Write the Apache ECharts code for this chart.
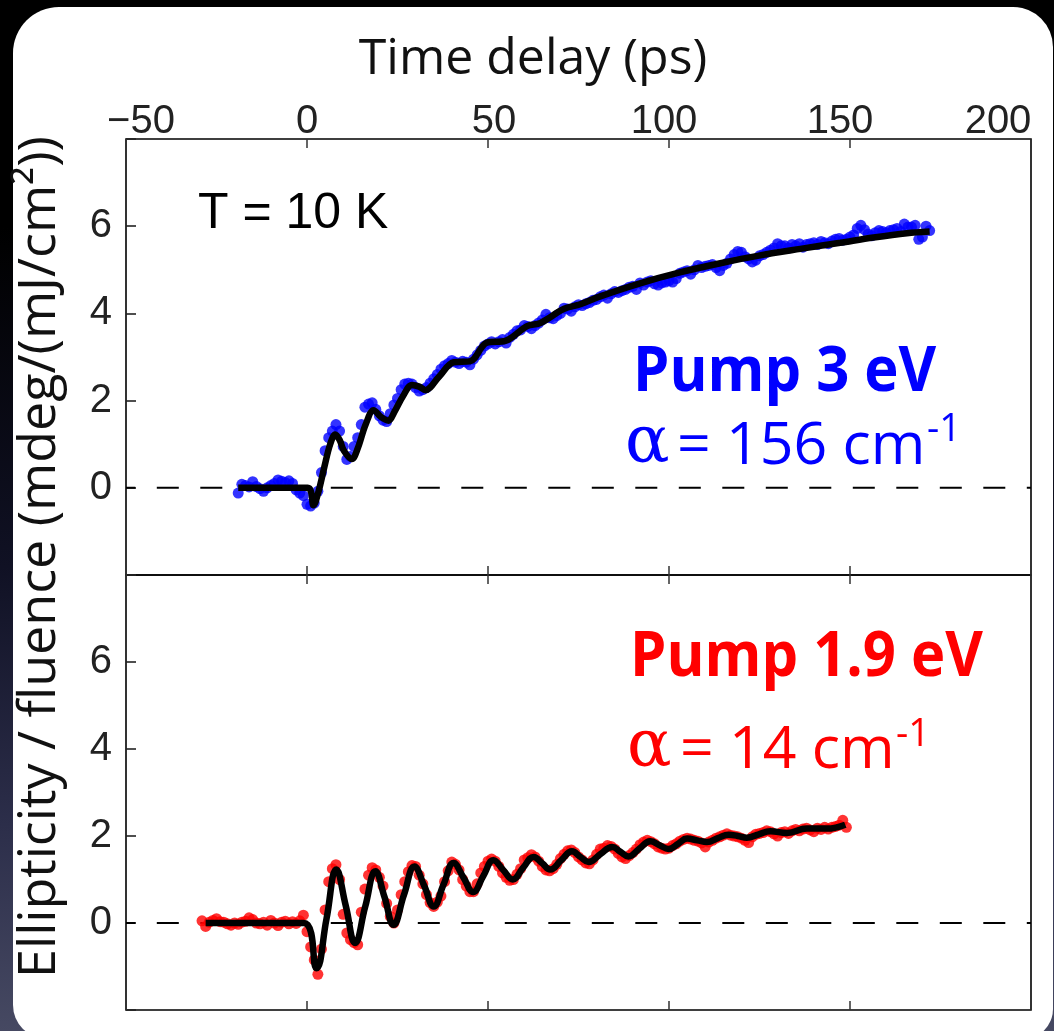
<!DOCTYPE html>
<html><head><meta charset="utf-8">
<script src="https://cdn.jsdelivr.net/npm/echarts@6/dist/echarts.min.js"></script>
<style>
html,body{margin:0;padding:0;width:1054px;height:1031px;overflow:hidden;}
body{background:linear-gradient(to bottom,#000 0%,#000 22%,#101124 55%,#2c2e4a 80%,#464962 100%);}
#panel{position:absolute;left:13px;top:7px;width:1040px;height:1032px;background:#fff;border-radius:46px 40px 30px 34px;}
#chart{position:absolute;left:0;top:0;width:1054px;height:1031px;}
</style></head><body><div id="panel"></div><div id="chart"></div>
<script>
// ---- axis settings ----
const xMin = -50, xMax = 200, xStep = 50;
const yMin = -2, yMax = 8, yStep = 2;
const xTickLabels = {'-50':'−50','0':'0','50':'50','100':'100','150':'150','200':'200'};

// ---- Pump 3 eV (top panel) : measured points ----
const tTop = [
-19,-18,-17,-16,-15,-14,-13,-12,-11,-10,-9,-8,-7,-6,-5,-4,-3,-2,-1,0,
1,2,3,4,5,6,7,8,9,10,11,12,13,14,15,16,17,18,19,20,
21,22,23,24,25,26,27,28,29,30,31,32,33,34,35,36,37,38,39,40,
41,42,43,44,45,46,47,48,49,50,51,52,53,54,55,56,57,58,59,60,
61,62,63,64,65,66,67,68,69,70,71,72,73,74,75,76,77,78,79,80,
81,82,83,84,85,86,87,88,89,90,91,92,93,94,95,96,97,98,99,100,
101,102,103,104,105,106,107,108,109,110,111,112,113,114,115,116,117,118,119,120,
121,122,123,124,125,126,127,128,129,130,131,132,133,134,135,136,137,138,139,140,
141,142,143,144,145,146,147,148,149,150,151,152,153,154,155,156,157,158,159,160,
161,162,163,164,165,166,167,168,169,170,171,172];
const yTop = [
-0.12,0.08,0.05,0.02,0.14,0.03,-0.02,-0.08,0.00,0.05,0.10,0.18,0.15,0.12,0.16,0.10,-0.05,-0.12,-0.18,-0.38,
-0.42,-0.35,-0.08,0.35,0.85,1.15,1.30,1.45,1.30,0.95,0.65,0.72,0.95,1.15,1.45,1.85,1.92,1.95,1.80,1.65,
1.55,1.52,1.70,1.90,2.05,2.25,2.38,2.40,2.38,2.30,2.22,2.25,2.30,2.40,2.50,2.60,2.72,2.80,2.85,2.92,
2.88,2.85,2.90,2.88,2.82,2.95,3.05,3.15,3.25,3.30,3.35,3.30,3.35,3.40,3.32,3.45,3.52,3.60,3.62,3.72,
3.70,3.65,3.72,3.78,3.85,3.98,3.90,3.88,3.95,4.00,4.12,4.10,4.05,4.15,4.20,4.18,4.22,4.25,4.30,4.32,
4.38,4.42,4.35,4.45,4.50,4.48,4.52,4.55,4.60,4.62,4.55,4.70,4.65,4.72,4.75,4.68,4.65,4.70,4.72,4.75,
4.72,4.80,4.92,4.95,4.98,4.90,5.00,5.10,5.05,5.08,5.10,5.12,5.05,4.98,5.10,5.15,5.25,5.35,5.42,5.40,
5.30,5.25,5.18,5.22,5.32,5.35,5.40,5.45,5.50,5.60,5.55,5.55,5.50,5.58,5.55,5.60,5.52,5.58,5.60,5.62,
5.58,5.65,5.62,5.60,5.66,5.70,5.72,5.68,5.70,5.75,5.80,5.95,6.02,5.92,5.82,5.78,5.85,5.90,5.88,5.85,
5.90,5.92,5.95,5.88,6.05,5.98,5.98,6.02,5.70,5.75,6.00,5.90];

// ---- Pump 3 eV : fit curve ----
const fitTopT = [-19,0.2,1.8,3.2,4.8,6.4,7.8,9.0,10.2,12.4,14.0,16.2,18.4,20.5,22.5,24.2,26.5,29,31,32.7,36.5,40.5,45,49.7,54.8,60.8,64.5,70.9,75.5,81,92,103,114.2,125.2,136.3,147.3,156.5,165.7,172];
const fitTopY = [0,0,-0.40,-0.08,0.48,1.00,1.22,1.10,0.85,0.66,0.90,1.45,1.78,1.62,1.54,1.75,2.10,2.36,2.32,2.24,2.55,2.88,2.90,3.33,3.37,3.71,3.78,4.10,4.21,4.39,4.69,4.94,5.15,5.33,5.48,5.62,5.74,5.84,5.88];

// ---- Pump 1.9 eV (bottom panel) : measured points ----
const tBot = [
-29,-28,-27,-26,-25,-24,-23,-22,-21,-20,-19,-18,-17,-16,-15,-14,-13,-12,-11,-10,
-9,-8,-7,-6,-5,-4,-3,-2,-1,0,1,2,3,4,5,6,7,8,9,10,
11,12,13,14,15,16,17,18,19,20,21,22,23,24,25,26,27,28,29,30,
31,32,33,34,35,36,37,38,39,40,41,42,43,44,45,46,47,48,49,50,
51,52,53,54,55,56,57,58,59,60,61,62,63,64,65,66,67,68,69,70,
71,72,73,74,75,76,77,78,79,80,81,82,83,84,85,86,87,88,89,90,
91,92,93,94,95,96,97,98,99,100,101,102,103,104,105,106,107,108,109,110,
111,112,113,114,115,116,117,118,119,120,121,122,123,124,125,126,127,128,129,130,
131,132,133,134,135,136,137,138,139,140,141,142,143,144,145,146,147,148,149];
const yBot = [
0.05,-0.08,0.02,0.06,0.10,0.03,0.02,-0.02,-0.05,0.00,-0.03,0.02,0.04,0.12,0.08,0.00,-0.02,0.02,-0.05,0.06,
0.00,-0.06,0.02,0.04,-0.02,0.03,-0.01,0.05,0.18,-0.20,-0.55,-0.85,-1.18,-0.60,0.30,0.95,1.25,1.34,1.00,0.20,
-0.23,-0.38,-0.45,-0.50,0.25,0.78,1.10,1.27,1.22,1.05,0.85,0.45,0.15,0.00,0.30,0.65,0.95,1.18,1.32,1.30,
1.10,0.90,0.65,0.47,0.38,0.48,0.62,0.95,1.20,1.40,1.35,1.22,1.00,0.85,0.72,0.72,0.90,1.15,1.30,1.42,
1.47,1.42,1.30,1.15,1.05,0.98,1.00,1.12,1.25,1.45,1.50,1.57,1.52,1.42,1.30,1.22,1.20,1.25,1.35,1.48,
1.58,1.66,1.68,1.62,1.52,1.45,1.38,1.36,1.45,1.58,1.70,1.72,1.78,1.76,1.70,1.60,1.52,1.48,1.55,1.62,
1.70,1.80,1.86,1.90,1.87,1.82,1.75,1.72,1.70,1.72,1.78,1.82,1.88,1.92,1.95,1.93,1.90,1.88,1.84,1.75,
1.86,1.90,1.95,1.98,2.02,2.05,2.02,2.00,1.98,1.95,1.90,1.85,1.98,2.04,2.06,2.08,2.12,2.10,2.05,2.00,
2.08,2.10,2.06,2.12,2.15,2.12,2.16,2.18,2.14,2.10,2.18,2.15,2.20,2.16,2.20,2.22,2.25,2.36,2.20];

// ---- Pump 1.9 eV : fit curve ----
const fitBotT = [-28,-0.9,2.6,5.4,8.1,10.7,13.3,16.1,18.9,21.4,23.9,26.8,29.7,32.4,35,37.7,40.5,43.2,45.9,48.7,51.5,54.2,56.8,59.7,62.6,64.9,67.2,70.2,73.2,75.5,77.8,81,84.3,86.5,88.8,91.8,94.8,97.4,99.9,102.5,105,107.8,110.5,113.5,116.5,119,121.5,124.8,128,132.6,138.1,143.6,148.7];
const fitBotY = [0,0,-1.04,0.10,1.23,0.40,-0.46,0.38,1.19,0.60,-0.04,0.65,1.30,0.85,0.38,0.88,1.38,1.05,0.71,1.08,1.44,1.22,1.00,1.27,1.52,1.38,1.23,1.44,1.65,1.52,1.40,1.58,1.75,1.64,1.53,1.71,1.88,1.79,1.70,1.82,1.94,1.90,1.86,1.95,2.03,2.00,1.96,2.04,2.11,2.07,2.17,2.17,2.26];

// ---- text ----
const xTitle = 'Time delay (ps)';
const yTitle = 'Ellipticity / fluence (mdeg/(mJ/cm²))';
const tempLabel = 'T = 10 K';
const topLabel = 'Pump 3 eV', topAlpha = '= 156 cm', botLabel = 'Pump 1.9 eV', botAlpha = '= 14 cm', supText = '-1';

const pairs = (a, b) => a.map((v, i) => [v, b[i]]);
const zeroLine = [[xMin, 0], [xMax, 0]];

const chart = echarts.init(document.getElementById('chart'), null, {renderer: 'canvas'});
const tickFont = {fontFamily: 'Liberation Sans', fontSize: 40, color: '#222'};
const shiftKey = {'-50': 'a', '0': 'b', '50': 'c', '100': 'd', '150': 'e', '200': 'f'};
const richTop = {
  a: Object.assign({padding: [0, 0, 0, 30]}, tickFont),
  b: Object.assign({}, tickFont),
  c: Object.assign({padding: [0, 0, 0, 12]}, tickFont),
  d: Object.assign({padding: [0, 10, 0, 0]}, tickFont),
  e: Object.assign({padding: [0, 20, 0, 0]}, tickFont),
  f: Object.assign({padding: [0, 66, 0, 0]}, tickFont)
};
function xAx(gridIndex, position, labels) {
  return {
    type: 'value', gridIndex, position, min: xMin, max: xMax, interval: xStep,
    axisLine: {show: false, onZero: false},
    axisTick: {show: true, inside: true, length: 9, lineStyle: {color: '#333', width: 1.5}},
    splitLine: {show: false},
    axisLabel: labels ? {
      show: true, margin: -3,
      formatter: v => '{' + shiftKey[String(v)] + '|' + xTickLabels[String(v)] + '}',
      rich: richTop
    } : {show: false}
  };
}
function yAx(gridIndex) {
  return {
    type: 'value', gridIndex, position: 'left', min: yMin, max: yMax, interval: yStep,
    axisLine: {show: false, onZero: false},
    axisTick: {show: true, inside: true, length: 10, lineStyle: {color: '#222', width: 1.6}},
    splitLine: {show: false},
    axisLabel: Object.assign({margin: 14, formatter: v => (v === yMin || v === yMax) ? '' : String(v)}, tickFont)
  };
}
const dash = {color: '#000', width: 2, type: [22, 21.5], dashOffset: 12.7};

chart.setOption({
  animation: false,
  backgroundColor: 'transparent',
  grid: [
    {left: 126, top: 139, width: 905, height: 436, show: true, borderColor: '#000', borderWidth: 1.6, backgroundColor: 'transparent'},
    {left: 126, top: 575, width: 905, height: 435, show: true, borderColor: '#000', borderWidth: 1.6, backgroundColor: 'transparent'}
  ],
  xAxis: [xAx(0, 'top', true), xAx(0, 'bottom', false), xAx(1, 'top', false), xAx(1, 'bottom', false)],
  yAxis: [yAx(0), yAx(1)],
  series: [
    {type: 'line', xAxisIndex: 1, yAxisIndex: 0, data: zeroLine, showSymbol: false, symbol: 'none', lineStyle: dash, z: 1, silent: true},
    {type: 'scatter', name: 'Pump 3 eV', xAxisIndex: 1, yAxisIndex: 0, data: pairs(tTop, yTop), symbol: 'circle', symbolSize: 11, itemStyle: {color: '#0000ff'}, z: 2},
    {type: 'line', name: 'fit 3 eV', xAxisIndex: 1, yAxisIndex: 0, data: pairs(fitTopT, fitTopY), showSymbol: false, symbol: 'none', smooth: 0.35, lineStyle: {color: '#000', width: 6.5}, z: 3},
    {type: 'line', xAxisIndex: 3, yAxisIndex: 1, data: zeroLine, showSymbol: false, symbol: 'none', lineStyle: dash, z: 1, silent: true},
    {type: 'scatter', name: 'Pump 1.9 eV', xAxisIndex: 3, yAxisIndex: 1, data: pairs(tBot, yBot), symbol: 'circle', symbolSize: 11, itemStyle: {color: '#ff0000'}, z: 2},
    {type: 'line', name: 'fit 1.9 eV', xAxisIndex: 3, yAxisIndex: 1, data: pairs(fitBotT, fitBotY), showSymbol: false, symbol: 'none', smooth: 0.45, lineStyle: {color: '#000', width: 6.5}, z: 3}
  ],
  graphic: [
    {type: 'text', x: 533, y: 59.6, style: {text: xTitle, fontFamily: 'Open Sans', fontSize: 50, fill: '#111', align: 'center', verticalAlign: 'middle'}},
    {type: 'text', x: 40, y: 557, rotation: Math.PI / 2, style: {text: yTitle, fontFamily: 'Open Sans', fontSize: 52, fill: '#111', align: 'center', verticalAlign: 'middle'}},
    {type: 'text', x: 198, y: 214.7, style: {text: tempLabel, fontFamily: 'Liberation Sans', fontSize: 50, fill: '#000', align: 'left', verticalAlign: 'middle'}},
    {type: 'text', x: 633, y: 372.6, scaleX: 0.92, style: {text: topLabel, fontFamily: 'Open Sans', fontWeight: 'bold', fontSize: 63, fill: '#0000ff', align: 'left', verticalAlign: 'middle'}},
    {type: 'text', x: 625, y: 445, style: {text: 'α', fontFamily: 'DejaVu Serif', fontSize: 66, fill: '#0000ff', align: 'left', verticalAlign: 'middle'}},
    {type: 'text', x: 677, y: 447, style: {text: topAlpha, fontFamily: 'Open Sans', fontSize: 59, fill: '#0000ff', align: 'left', verticalAlign: 'middle'}},
    {type: 'text', x: 927, y: 430.3, style: {text: supText, fontFamily: 'Open Sans', fontSize: 38, fill: '#0000ff', align: 'left', verticalAlign: 'middle'}},
    {type: 'text', x: 630, y: 657.6, scaleX: 0.92, style: {text: botLabel, fontFamily: 'Open Sans', fontWeight: 'bold', fontSize: 63, fill: '#ff0000', align: 'left', verticalAlign: 'middle'}},
    {type: 'text', x: 627, y: 749, style: {text: 'α', fontFamily: 'DejaVu Serif', fontSize: 66, fill: '#ff0000', align: 'left', verticalAlign: 'middle'}},
    {type: 'text', x: 680, y: 751, style: {text: botAlpha, fontFamily: 'Open Sans', fontSize: 59, fill: '#ff0000', align: 'left', verticalAlign: 'middle'}},
    {type: 'text', x: 896, y: 735.3, style: {text: supText, fontFamily: 'Open Sans', fontSize: 38, fill: '#ff0000', align: 'left', verticalAlign: 'middle'}}
  ]
});
</script></body></html>
